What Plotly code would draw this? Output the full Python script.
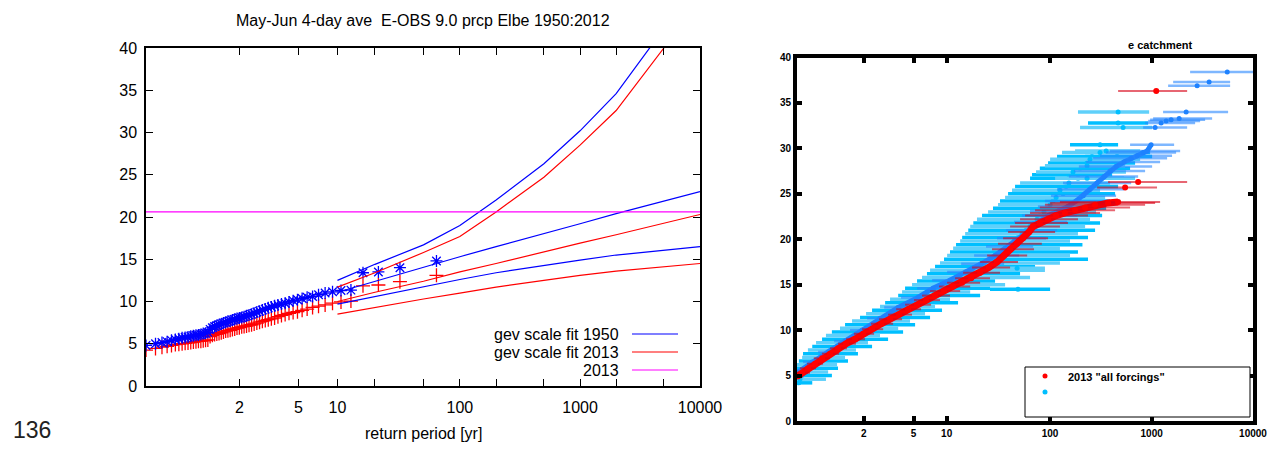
import numpy as np
import plotly.graph_objects as go

# ------------------------------------------------------------------
# LEFT PANEL DATA : E-OBS Elbe May-Jun 4-day average precipitation
# ------------------------------------------------------------------
n_years = 63
# sorted (ascending) observations scaled to 1950 climate (blue asterisks)
obs_1950 = [4.8, 5.0, 5.15, 5.25, 5.4, 5.5, 5.6, 5.7, 5.75, 5.8,
            5.9, 5.95, 6.0, 6.05, 6.1, 6.2, 6.25, 6.35, 6.7, 6.9,
            7.05, 7.15, 7.25, 7.35, 7.45, 7.55, 7.65, 7.7, 7.8, 7.9,
            8.0, 8.05, 8.1, 8.2, 8.3, 8.4, 8.5, 8.6, 8.75, 8.85,
            9.0, 9.1, 9.25, 9.35, 9.5, 9.6, 9.7, 9.8, 9.95, 10.1,
            10.2, 10.35, 10.5, 10.6, 10.8, 11.0, 11.15, 11.3, 11.35, 13.4,
            13.5, 14.0, 14.8]
# sorted (ascending) observations scaled to 2013 climate (red pluses)
obs_2013s = [4.25, 4.45, 4.6, 4.7, 4.8, 4.9, 4.95, 5.0, 5.05, 5.1,
             5.15, 5.2, 5.25, 5.3, 5.3, 5.35, 5.4, 5.45, 5.85, 6.0,
             6.1, 6.15, 6.2, 6.3, 6.4, 6.5, 6.55, 6.6, 6.7, 6.75,
             6.85, 6.9, 7.0, 7.05, 7.1, 7.2, 7.25, 7.35, 7.45, 7.55,
             7.65, 7.75, 7.85, 7.95, 8.05, 8.2, 8.35, 8.45, 8.6, 8.7,
             8.8, 8.95, 9.1, 9.3, 9.45, 9.6, 9.8, 9.95, 10.05, 11.85,
             11.95, 12.35, 13.1]

fit_periods = [10, 20, 50, 100, 200, 500, 1000, 2000, 5000, 10000]
fit1950_upper = [12.5, 14.4, 16.7, 19.0, 22.0, 26.3, 30.2, 34.6, 42.3, 49.0]
fit1950_mid = [11.1, 12.4, 14.1, 15.3, 16.5, 18.0, 19.2, 20.4, 21.9, 23.0]
fit1950_lower = [9.7, 10.6, 11.8, 12.6, 13.4, 14.3, 14.9, 15.5, 16.1, 16.5]
fit2013_upper = [11.7, 13.4, 15.8, 17.7, 20.6, 24.7, 28.5, 32.6, 40.0, 46.0]
fit2013_mid = [10.0, 11.1, 12.4, 13.5, 14.5, 15.9, 16.9, 17.9, 19.3, 20.3]
fit2013_lower = [8.5, 9.3, 10.3, 11.0, 11.7, 12.5, 13.1, 13.6, 14.1, 14.5]
event_2013 = 20.6

left_ticks = [2, 5, 10, 20, 50, 100, 200, 500, 1000, 2000, 5000, 10000]
left_ticklabels = ["2", "5", "10", "", "", "100", "", "", "1000", "", "", "10000"]
left_yticks = [0, 5, 10, 15, 20, 25, 30, 35, 40]

# ------------------------------------------------------------------
# RIGHT PANEL DATA : model ensembles, value / return period / bounds
# ------------------------------------------------------------------
red_val = [4.9, 5.3, 5.8, 6.3, 6.9, 7.4, 8.0, 8.5, 9.0, 9.6,
           10.1, 10.7, 11.2, 11.7, 12.3, 12.8, 13.3, 13.8, 14.3, 14.8,
           15.2, 15.7, 16.3, 16.9, 17.5, 18.2, 18.9, 19.5, 20.1, 20.8,
           21.4, 21.8, 22.2, 22.6, 22.9, 23.2, 23.5, 23.8, 24.0, 24.1,
           25.7, 26.3, 36.3]
red_T = [1.044, 1.064, 1.093, 1.14, 1.201, 1.29, 1.405, 1.55, 1.75, 1.98,
         2.29, 2.68, 3.154, 3.74, 4.47, 5.36, 6.45, 7.8, 9.45, 11.5,
         14.0, 17.1, 20.8, 25.3, 30.3, 35.5, 40.6, 47.5, 54.4, 62.2,
         68.1, 79.3, 95.5, 114.5, 140, 176, 221, 277, 372, 467,
         548, 736, 1110]
red_T_lo = [1.044, 1.044, 1.055, 1.088, 1.131, 1.201, 1.29, 1.405, 1.55, 1.725,
            1.948, 2.25, 2.58, 3.04, 3.54, 4.21, 5.04, 5.94, 7.02, 8.49,
            10.1, 12.0, 14.3, 17.4, 20.8, 24.3, 27.1, 31.0, 34.7, 38.8,
            40.6, 45.4, 50.8, 56.9, 63.6, 71.2, 79.3, 89, 100, 125,
            290, 372, 467]
red_T_hi = [1.068, 1.105, 1.148, 1.211, 1.29, 1.422, 1.57, 1.777, 2.04, 2.37,
            2.78, 3.34, 3.97, 4.84, 5.82, 7.17, 8.67, 10.75, 13.4, 16.7,
            20.8, 25.9, 32.4, 40.6, 48.5, 59.6, 69.6, 83, 95.5, 112,
            125, 150, 188, 236, 310, 436, 613, 862, 1082, 1212,
            1130, 2240, 2240]
red_band_n = 40  # the first 40 members form the continuous band

db_val = [5.3, 6.5, 7.6, 8.8, 10.0, 11.3, 12.5, 13.6, 14.6, 15.5,
          16.4, 17.3, 18.2, 19.2, 20.1, 21.0, 21.9, 22.6, 23.1, 23.6,
          24.2, 24.8, 25.5, 26.2, 26.9, 27.5, 28.0, 28.5, 28.9, 29.2,
          29.55, 29.7, 30.4, 32.3, 32.8, 33.0, 33.15, 33.3, 34.0, 36.9,
          37.3, 38.4]
db_T = [1.044, 1.12, 1.267, 1.53, 1.948, 2.627, 3.68, 5.47, 7.48, 10.75,
        15.3, 21.3, 29.0, 38.8, 50.8, 63.6, 77.6, 95.5, 120, 150,
        180, 212, 247, 290, 340, 389, 446, 535, 628, 720,
        824, 903, 988, 1082, 1240, 1390, 1556, 1868, 2190, 2810,
        3690, 5570]
db_T_lo = [1.044, 1.068, 1.165, 1.345, 1.634, 2.11, 2.83, 3.89, 5.36, 7.33,
           10.1, 13.7, 18.2, 23.7, 30.3, 37.1, 44.4, 53.2, 63.6, 76,
           89, 102, 117, 134, 153, 172, 192, 226, 265, 310,
           356, 389, 613, 824, 862, 924, 966, 1034, 1297, 1454,
           1630, 2396]
db_T_hi = [1.093, 1.211, 1.438, 1.83, 2.45, 3.47, 5.04, 7.48, 11.2, 16.7,
           24.8, 35.5, 49.7, 68.1, 91.2, 117, 147, 184, 236, 303,
           372, 446, 535, 628, 736, 862, 1011, 1212, 1421, 1590,
           1743, 1910, 1666, 2240, 2685, 3007, 3370, 3950, 5680, 5946,
           5946, 12000]
db_band_n = 33  # the first 33 members form a continuous band

lb_val = [4.2, 4.6, 5.0, 5.4, 5.8, 6.2, 6.6, 7.0, 7.4, 7.8,
          8.2, 8.6, 9.0, 9.4, 9.8, 10.2, 10.6, 11.0, 11.4, 11.8,
          12.2, 12.6, 13.0, 13.4, 13.8, 14.2, 14.6, 15.0, 15.4, 15.8,
          16.2, 16.6, 17.0, 17.4, 17.8, 18.2, 18.6, 19.0, 19.4, 19.8,
          20.2, 20.6, 21.0, 21.4, 21.8, 22.2, 22.6, 23.0, 23.4, 23.8,
          24.2, 24.6, 25.0, 25.4, 25.8, 26.2, 26.7, 26.7, 27.1, 27.4,
          27.8, 28.1, 28.4, 28.8, 29.1, 29.55, 29.55, 29.7, 30.4, 32.3,
          32.8, 34.0, 14.5, 16.8]
lb_T = [1.051, 1.055, 1.064, 1.077, 1.093, 1.12, 1.148, 1.19, 1.242, 1.30,
        1.39, 1.49, 1.61, 1.75, 1.918, 2.11, 2.33, 2.627, 2.93, 3.34,
        3.74, 4.26, 4.94, 5.70, 6.58, 7.64, 8.86, 10.3, 11.75, 13.4,
        15.3, 17.4, 19.9, 22.7, 25.9, 29.0, 32.4, 36.3, 40.6, 44.4,
        48.5, 53.2, 58.2, 63.6, 69.6, 74.4, 79.3, 87, 93.4, 100,
        107, 114.5, 134, 125, 143.5, 153, 188, 231, 153, 168,
        197, 231, 231, 247, 258, 310, 456, 356, 310, 523,
        467, 467, 48.5, 47.5]
lb_T_lo = [1.044, 1.044, 1.044, 1.044, 1.044, 1.044, 1.051, 1.064, 1.068, 1.093,
           1.12, 1.148, 1.201, 1.242, 1.315, 1.438, 1.53, 1.68, 1.888, 2.075,
           2.29, 2.627, 2.88, 3.154, 3.68, 3.97, 4.21, 4.84, 5.36, 5.94,
           6.58, 7.02, 7.8, 8.67, 9.45, 10.1, 10.75, 11.5, 12.25, 13.4,
           14.0, 14.95, 16.0, 16.7, 17.9, 19.4, 21.7, 24.8, 27.7, 31.0,
           32.4, 36.3, 38.8, 42.4, 45.4, 50.8, 63.6, 112, 66.5, 72.8,
           79.3, 89, 95.5, 100, 117, 131, 221, 176, 157, 197,
           236, 188, 25.9, 23.2]
lb_T_hi = [1.12, 1.242, 1.315, 1.267, 1.405, 1.39, 1.59, 1.53, 1.83, 1.777,
           2.29, 2.14, 3.04, 2.627, 4.05, 3.68, 5.15, 4.649, 7.02, 6.32,
           9.05, 7.8, 12.8, 10.75, 20.8, 16.7, 25.9, 36.3, 29.0, 63.6,
           50.8, 89, 71.2, 125, 236, 157, 188, 125, 208, 157,
           236, 188, 277, 221, 310, 247, 325, 283, 356, 310,
           389, 348, 436, 310, 467, 389, 535, 687, 408, 558,
           613, 548, 687, 770, 1011, 770, 966, 770, 467, 1011,
           924, 945, 100, 89]

right_ticks = [2, 5, 10, 100, 1000, 10000]
right_yticks = [0, 5, 10, 15, 20, 25, 30, 35, 40]


def gumbel(T):
    """Gumbel reduced variate of a return period (the x scale of both panels)."""
    T = np.asarray(T, dtype=float)
    return -np.log(-np.log(1.0 - 1.0 / T))


# the page body adds an 8 px margin, so the figure is drawn from (8, 8)
OFF = 8
W, H = 1263, 438


def px(x):
    return (x - OFF) / W


def py(y):
    return 1 - (y - OFF) / H


fig = go.Figure()

# ------------------------- left panel -----------------------------
ranks = np.arange(n_years, 0, -1)
periods = (n_years + 1) / ranks

fig.add_trace(go.Scatter(x=gumbel(periods), y=obs_2013s, mode="markers",
                         marker=dict(symbol="cross-thin", size=10, color="#ff0000",
                                     line=dict(color="#ff0000", width=1.3)),
                         showlegend=False, xaxis="x", yaxis="y"))
fig.add_trace(go.Scatter(x=gumbel(periods), y=obs_1950, mode="markers",
                         marker=dict(symbol="asterisk", size=10, color="#0000ff",
                                     line=dict(color="#0000ff", width=1.3)),
                         showlegend=False, xaxis="x", yaxis="y"))

fx = gumbel(fit_periods)
for vals, col in [(fit1950_upper, "#0000ff"), (fit1950_mid, "#0000ff"),
                  (fit1950_lower, "#0000ff"), (fit2013_upper, "#ff0000"),
                  (fit2013_mid, "#ff0000"), (fit2013_lower, "#ff0000")]:
    fig.add_trace(go.Scatter(x=fx, y=vals, mode="lines",
                             line=dict(color=col, width=1.2),
                             showlegend=False, xaxis="x", yaxis="y"))

x_left = [float(gumbel((n_years + 1) / n_years)), float(gumbel(10000))]
fig.add_trace(go.Scatter(x=x_left, y=[event_2013, event_2013], mode="lines",
                         line=dict(color="#ff00ff", width=1.2),
                         showlegend=False, xaxis="x", yaxis="y"))


# ------------------------- right panel ----------------------------
def err_trace(vals, T, lo, hi, mcolor, ecolor, size, thick):
    T = np.asarray(T, float)
    gx = gumbel(T)
    return go.Scatter(
        x=gx, y=vals, mode="markers",
        marker=dict(color=mcolor, size=size, line=dict(width=0)),
        error_x=dict(type="data", symmetric=False,
                     array=gumbel(hi) - gx, arrayminus=gx - gumbel(lo),
                     color=ecolor, thickness=thick, width=0),
        showlegend=False, xaxis="x2", yaxis="y2")


def band_trace(vals, T, color, width):
    return go.Scatter(x=gumbel(T), y=vals, mode="lines",
                      line=dict(color=color, width=width),
                      showlegend=False, hoverinfo="skip",
                      xaxis="x2", yaxis="y2")


# light-blue ensemble: alternate members in two shades (as in the original)
lbv, lbt, lbl, lbh = (np.asarray(a, float) for a in (lb_val, lb_T, lb_T_lo, lb_T_hi))
fig.add_trace(err_trace(lbv[0::2], lbt[0::2], lbl[0::2], lbh[0::2], "#00bfff",
                        "#00bfff", 5, 3.5))
fig.add_trace(err_trace(lbv[1::2], lbt[1::2], lbl[1::2], lbh[1::2], "#00bfff",
                        "#5fd0fa", 5, 3.5))
# dodger-blue ensemble
fig.add_trace(band_trace(db_val[:db_band_n], db_T[:db_band_n], "#1e82ff", 5))
fig.add_trace(err_trace(db_val, db_T, db_T_lo, db_T_hi, "#1e82ff",
                        "rgba(40,135,255,0.6)", 5, 2.5))
# dense red ensemble drawn as a thick band through its members
fig.add_trace(band_trace(red_val[:red_band_n], red_T[:red_band_n], "#ff0000", 7))
fig.add_trace(err_trace(red_val, red_T, red_T_lo, red_T_hi, "#ff0000",
                        "rgba(215,0,20,0.6)", 6, 2))

# ------------------------- layout ---------------------------------
lfont = dict(family="Liberation Sans, Arial, sans-serif", size=16, color="black")
rfont = dict(family="Liberation Sans, Arial, sans-serif", size=10, color="black",
             weight="bold")

fig.update_layout(
    width=W, height=H, margin=dict(l=0, r=0, t=0, b=0, autoexpand=False),
    paper_bgcolor="white", plot_bgcolor="white", showlegend=False,
    xaxis=dict(domain=[px(146), px(700)], range=x_left,
               tickvals=gumbel(left_ticks), ticktext=left_ticklabels,
               ticks="inside", ticklen=7, tickwidth=1.2, tickcolor="black",
               showline=True, linecolor="black", linewidth=1.5, mirror="ticks",
               showgrid=False, zeroline=False, tickfont=lfont, anchor="y",
               ticklabelstandoff=6),
    yaxis=dict(domain=[py(386), py(48)], range=[0, 40], tickvals=left_yticks,
               ticks="inside", ticklen=7, tickwidth=1.2, tickcolor="black",
               showline=True, linecolor="black", linewidth=1.5, mirror="ticks",
               showgrid=False, zeroline=False, tickfont=lfont, anchor="x",
               ticklabelstandoff=4),
    xaxis2=dict(domain=[px(797), px(1253)], range=[-1.15, float(gumbel(10000))],
                tickvals=gumbel(right_ticks), ticktext=[str(t) for t in right_ticks],
                ticks="inside", ticklen=5, tickwidth=4, tickcolor="black",
                showline=True, linecolor="black", linewidth=4, mirror="ticks",
                showgrid=False, zeroline=False, tickfont=rfont, anchor="y2"),
    yaxis2=dict(domain=[py(421), py(57.5)], range=[0, 40], tickvals=right_yticks,
                ticks="inside", ticklen=5, tickwidth=4, tickcolor="black",
                showline=True, linecolor="black", linewidth=4, mirror="ticks",
                showgrid=False, zeroline=False, tickfont=rfont, anchor="x2"),
)

annotations = [
    dict(text="May-Jun 4-day ave  E-OBS 9.0 prcp Elbe 1950:2012",
         x=px(423), y=py(20), font=lfont),
    dict(text="return period [yr]", x=px(423), y=py(433), font=lfont),
    dict(text="gev scale fit 1950", x=px(621), y=py(334), font=lfont, xanchor="right"),
    dict(text="gev scale fit 2013", x=px(621), y=py(352), font=lfont, xanchor="right"),
    dict(text="2013", x=px(621), y=py(370), font=lfont, xanchor="right"),
    dict(text="e catchment", x=px(1160), y=py(45),
         font=dict(family="Liberation Sans, Arial, sans-serif", size=11,
                   color="black", weight="bold")),
    dict(text="136", x=px(32), y=py(430),
         font=dict(family="Liberation Sans, Arial, sans-serif", size=23, color="#222222")),
    dict(text='2013 "all forcings"', x=px(1066), y=py(377), xanchor="left",
         font=dict(family="Liberation Sans, Arial, sans-serif", size=11,
                   color="black", weight="bold")),
]
for a in annotations:
    a.update(xref="paper", yref="paper", showarrow=False)
    a.setdefault("xanchor", "center")
    a.setdefault("yanchor", "middle")
fig.update_layout(annotations=annotations)

shapes = []
for yy, col in [(334, "#0000ff"), (352, "#ff0000"), (370, "#ff00ff")]:
    shapes.append(dict(type="line", xref="paper", yref="paper",
                       x0=px(632), x1=px(678), y0=py(yy), y1=py(yy),
                       line=dict(color=col, width=1.2)))
shapes.append(dict(type="rect", xref="paper", yref="paper",
                   x0=px(1025), x1=px(1250), y0=py(417), y1=py(367),
                   line=dict(color="black", width=1), fillcolor="white",
                   layer="above"))
for yy, col in [(376, "#ff0000"), (392, "#00bfff")]:
    shapes.append(dict(type="circle", xref="paper", yref="paper",
                       x0=px(1042.5), x1=px(1047.5), y0=py(yy + 2.5), y1=py(yy - 2.5),
                       line=dict(width=0), fillcolor=col, layer="above"))
fig.update_layout(shapes=shapes)

fig.write_html("out.html")
